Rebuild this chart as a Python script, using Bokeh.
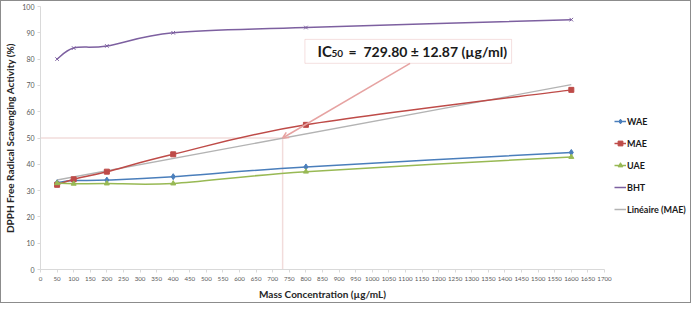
from bokeh.plotting import figure
from bokeh.layouts import row
from bokeh.models import (Range1d, SingleIntervalTicker, Legend, LegendItem, Label,
                          BoxAnnotation, Arrow, OpenHead)
from bokeh.embed import file_html
from bokeh.resources import INLINE
import numpy as np

# ---- data ----
conc = [50, 100, 200, 400, 800, 1600]
wae = [33.0, 33.8, 34.0, 35.3, 39.0, 44.5]
mae = [32.2, 34.3, 37.2, 43.8, 55.0, 68.3]
uae = [32.8, 32.6, 32.7, 32.7, 37.2, 42.8]
bht = [80.0, 84.2, 85.0, 90.0, 92.0, 95.0]
ic50 = 729.80
ic50_err = 12.87

FONT = "Lato"

p = figure(frame_width=564, frame_height=263, output_backend="svg", toolbar_location=None,
           x_range=Range1d(0, 1700), y_range=Range1d(0, 100),
           min_border_left=0, min_border_right=8, min_border_top=5, min_border_bottom=0)
p.outline_line_color = None
p.xgrid.visible = False
p.ygrid.visible = False

for ax in (p.xaxis[0], p.yaxis[0]):
    ax.axis_line_color = "#d9d9d9"
    ax.major_tick_line_color = "#d9d9d9"
    ax.minor_tick_line_color = None
    ax.major_tick_out = 3
    ax.major_tick_in = 0
    ax.major_label_text_font = FONT
    ax.major_label_text_color = "#595959"
    ax.axis_label_text_font = FONT
    ax.axis_label_text_font_style = "bold"
    ax.axis_label_text_font_size = "10px"
    ax.axis_label_text_color = "#262626"

p.xaxis.major_label_text_font_size = "6.2px"
p.yaxis.major_label_text_font_size = "7px"
p.xaxis.ticker = SingleIntervalTicker(interval=50)
p.yaxis.ticker = SingleIntervalTicker(interval=10)
p.xaxis.axis_label = "Mass Concentration (µg/mL)"
p.yaxis.axis_label = "DPPH Free Radical Scavenging Activity (%)"
p.xaxis.major_label_standoff = 3
p.xaxis.axis_label_standoff = 4
p.yaxis.major_label_standoff = 2
p.yaxis.axis_label_standoff = 3


def smooth(xs, ys, t=1.0 / 6):
    n = len(xs)
    d = dict(x0=[], y0=[], x1=[], y1=[], cx0=[], cy0=[], cx1=[], cy1=[])
    for i in range(n - 1):
        ip = max(i - 1, 0)
        inn = min(i + 2, n - 1)
        d["x0"].append(xs[i]); d["y0"].append(ys[i])
        d["x1"].append(xs[i + 1]); d["y1"].append(ys[i + 1])
        d["cx0"].append(xs[i] + (xs[i + 1] - xs[ip]) * t)
        d["cy0"].append(ys[i] + (ys[i + 1] - ys[ip]) * t)
        d["cx1"].append(xs[i + 1] - (xs[inn] - xs[i]) * t)
        d["cy1"].append(ys[i + 1] - (ys[inn] - ys[i]) * t)
    return d

# reference lines for IC50
p.segment(x0=[0], y0=[50], x1=[ic50], y1=[50], line_color="#f2dcdb", line_width=1.5)
p.segment(x0=[ic50], y0=[0], x1=[ic50], y1=[50], line_color="#f2dcdb", line_width=1.5)

# linear trend (MAE)
slope, intercept = np.polyfit(conc, mae, 1)
lin_x = [conc[0], conc[-1]]
lin_y = [intercept + slope * v for v in lin_x]
LIN_COL = "#b3b3b3"
p.line(lin_x, lin_y, line_color=LIN_COL, line_width=1.3)

series = [
    ("WAE", wae, "#4a7ebb", "diamond", 6),
    ("MAE", mae, "#be4b48", "square", 5),
    ("UAE", uae, "#98b954", "triangle", 5),
    ("BHT", bht, "#7d60a0", "x", 5),
]
for name, ys, col, mk, sz in series:
    p.bezier(**smooth(conc, ys), line_color=col, line_width=1.5)
    p.scatter(conc, ys, marker=mk, size=sz, fill_color=col, line_color=col, line_width=1)

# IC50 callout
box = BoxAnnotation(left=797, right=1420, bottom=78.4, top=87.5,
                    fill_color="white", fill_alpha=1, line_color="#d99694", line_width=1)
p.add_layout(box)
p.add_layout(Arrow(end=OpenHead(size=6, line_color="#e6a3a2", line_width=1.5),
                   x_start=1114, y_start=78.4, x_end=ic50, y_end=50,
                   line_color="#e6a3a2", line_width=1.5))
lbl_kw = dict(text_font=FONT, text_font_style="bold", text_color="#1a1a1a", text_baseline="middle")
p.add_layout(Label(x=835, y=83, text="IC", text_font_size="15px", **lbl_kw))
p.add_layout(Label(x=835, y=83, x_offset=14, y_offset=-2, text="50", text_font_size="10px", **lbl_kw))
p.add_layout(Label(x=835, y=83, x_offset=31,
                   text=f"=\u00a0\u00a0{ic50:.2f} ± {ic50_err:.2f} (µg/ml)",
                   text_font_size="14px", **lbl_kw))

# ---- legend panel (separate narrow figure to the right) ----
lp = figure(width=78, height=295, output_backend="svg", toolbar_location=None,
            x_axis_location=None, y_axis_location=None,
            min_border_left=0, min_border_right=0, min_border_top=0, min_border_bottom=0,
            x_range=Range1d(0, 1), y_range=Range1d(0, 1))
lp.outline_line_color = None
lp.xgrid.visible = False
lp.ygrid.visible = False
nan = [float("nan")]
items = []
for name, ys, col, mk, sz in series:
    r_leg = lp.line(nan, nan, line_color=col, line_width=1.5)
    if name == "BHT":
        items.append(LegendItem(label=name, renderers=[r_leg]))
    else:
        r_mk = lp.scatter(nan, nan, marker=mk, size=sz, fill_color=col, line_color=col)
        items.append(LegendItem(label=name, renderers=[r_leg, r_mk]))
r_lin = lp.line(nan, nan, line_color=LIN_COL, line_width=1.5)
items.append(LegendItem(label="Linéaire (MAE)", renderers=[r_lin]))
legend = Legend(items=items, location=(2, 45), border_line_color=None,
                background_fill_alpha=0, padding=0, margin=0, spacing=4,
                glyph_width=12, glyph_height=18, label_standoff=1,
                label_text_font=FONT, label_text_font_style="bold",
                label_text_font_size="9px", label_text_color="#1a1a1a")
lp.add_layout(legend)

layout = row(p, lp, styles={"border": "1px solid #8c8c8c"})
open("out.html", "w").write(file_html(layout, INLINE))
